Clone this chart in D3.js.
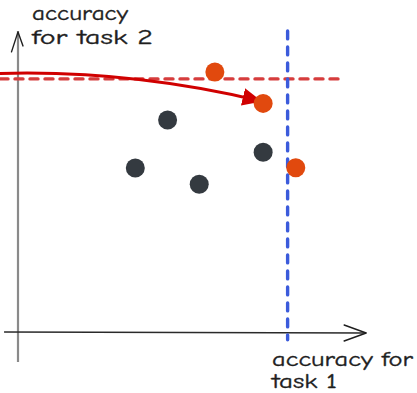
<!DOCTYPE html>
<html>
<head>
<meta charset="utf-8">
<script src="https://cdn.jsdelivr.net/npm/d3@7"></script>
<style>
  html, body { margin: 0; padding: 0; background: #fff; }
  svg { display: block; }
  text { font-family: "Comic Neue", "Lato", "DejaVu Sans", sans-serif; fill: #1e1e1e; stroke: #1e1e1e; stroke-width: 0.35; }
</style>
</head>
<body>
<svg id="chart" width="417" height="393"></svg>
<script>
// ---- data (abstract accuracy units, 0..100) ----
const otherModels = [ // dark points
  { x: 44.0, y: 70.2 },
  { x: 34.5, y: 54.3 },
  { x: 53.3, y: 48.9 },
  { x: 72.1, y: 59.5 }
];
const highlightModels = [ // orange points
  { x: 57.9, y: 86.1 },
  { x: 72.1, y: 75.7 },
  { x: 81.7, y: 54.4 }
];
const task1Threshold = 79.3;   // blue dashed vertical
const task2Threshold = 83.8;   // red dashed horizontal
const xAxisExtent = [-4.1, 102.4];
const yAxisExtent = [-9.9, 99.7];
const vLineExtent = [-2.6, 99.7];
const hLineExtent = [-5.3, 95.6];
const trajectory = [ // start, control, end of the red arrow (quadratic)
  { x: -5.3, y: 85.6 },
  { x: 32.9, y: 86.8 },
  { x: 71.2, y: 76.5 }
];
const yLabelLines = ["accuracy", "for task 2"];
const xLabelLines = ["accuracy for", "task 1"];

// ---- scales ----
const x = d3.scaleLinear().domain([0, 100]).range([18, 358]);
const y = d3.scaleLinear().domain([0, 100]).range([332, 30]);

const svg = d3.select("#chart");

// y axis
svg.append("line")
  .attr("x1", x(0)).attr("x2", x(0))
  .attr("y1", y(yAxisExtent[0])).attr("y2", y(yAxisExtent[1]))
  .attr("stroke", "#8a8a8a").attr("stroke-width", 2.2);
svg.append("path")
  .attr("d", `M${x(0) - 6.5},${y(yAxisExtent[1]) + 21} L${x(0)},${y(yAxisExtent[1]) + 1} L${x(0) + 5},${y(yAxisExtent[1]) + 15}`)
  .attr("fill", "none").attr("stroke", "#1e1e1e").attr("stroke-width", 1.4)
  .attr("stroke-linecap", "round").attr("stroke-linejoin", "round");

// x axis
svg.append("line")
  .attr("x1", x(xAxisExtent[0])).attr("x2", x(xAxisExtent[1]))
  .attr("y1", y(0)).attr("y2", y(0) + 1)
  .attr("stroke", "#2a2a2a").attr("stroke-width", 1.6);
svg.append("path")
  .attr("d", `M${x(xAxisExtent[1]) - 22},${y(0) - 7} L${x(xAxisExtent[1])},${y(0) + 1} L${x(xAxisExtent[1]) - 22},${y(0) + 9}`)
  .attr("fill", "none").attr("stroke", "#1e1e1e").attr("stroke-width", 1.4)
  .attr("stroke-linecap", "round").attr("stroke-linejoin", "round");

// red dashed horizontal threshold
svg.append("line")
  .attr("x1", x(hLineExtent[0])).attr("x2", x(hLineExtent[1]))
  .attr("y1", y(task2Threshold)).attr("y2", y(task2Threshold))
  .attr("stroke", "#d63d3d").attr("stroke-width", 3.4)
  .attr("stroke-dasharray", "8 7").attr("stroke-linecap", "round");

// red trajectory curve with arrow
const p = d3.path();
p.moveTo(x(trajectory[0].x), y(trajectory[0].y));
p.quadraticCurveTo(x(trajectory[1].x), y(trajectory[1].y), x(trajectory[2].x), y(trajectory[2].y));
svg.append("defs").append("marker")
  .attr("id", "arrow").attr("viewBox", "0 0 10 10")
  .attr("refX", 9).attr("refY", 5)
  .attr("markerWidth", 6.5).attr("markerHeight", 6.5)
  .attr("markerUnits", "strokeWidth")
  .attr("orient", "auto")
  .append("path").attr("d", "M0,0.5 L10,5 L0,9.5 Z").attr("fill", "#d00000");
svg.append("path")
  .attr("d", p.toString())
  .attr("fill", "none").attr("stroke", "#d00000").attr("stroke-width", 3)
  .attr("stroke-linecap", "round")
  .attr("marker-end", "url(#arrow)");

// blue dashed vertical threshold
svg.append("line")
  .attr("x1", x(task1Threshold)).attr("x2", x(task1Threshold))
  .attr("y1", y(vLineExtent[1])).attr("y2", y(vLineExtent[0]))
  .attr("stroke", "#3b5bdb").attr("stroke-width", 3.4)
  .attr("stroke-dasharray", "8 8").attr("stroke-linecap", "round");

// points
svg.append("g").selectAll("circle").data(otherModels).join("circle")
  .attr("cx", d => x(d.x)).attr("cy", d => y(d.y)).attr("r", 9.5)
  .attr("fill", "#343a40");
svg.append("g").selectAll("circle").data(highlightModels).join("circle")
  .attr("cx", d => x(d.x)).attr("cy", d => y(d.y)).attr("r", 9.5)
  .attr("fill", "#e1490e");

// labels
svg.append("text").attr("x", 32).attr("y", 20).attr("font-size", 20)
  .attr("textLength", 96).attr("lengthAdjust", "spacingAndGlyphs").text(yLabelLines[0]);
svg.append("text").attr("x", 32).attr("y", 44).attr("font-size", 20)
  .attr("textLength", 121).attr("lengthAdjust", "spacingAndGlyphs").text(yLabelLines[1]);
svg.append("text").attr("x", 272).attr("y", 366).attr("font-size", 20)
  .attr("textLength", 141).attr("lengthAdjust", "spacingAndGlyphs").text(xLabelLines[0]);
svg.append("text").attr("x", 272).attr("y", 388).attr("font-size", 20)
  .attr("textLength", 65).attr("lengthAdjust", "spacingAndGlyphs").text(xLabelLines[1]);
</script>
</body>
</html>
